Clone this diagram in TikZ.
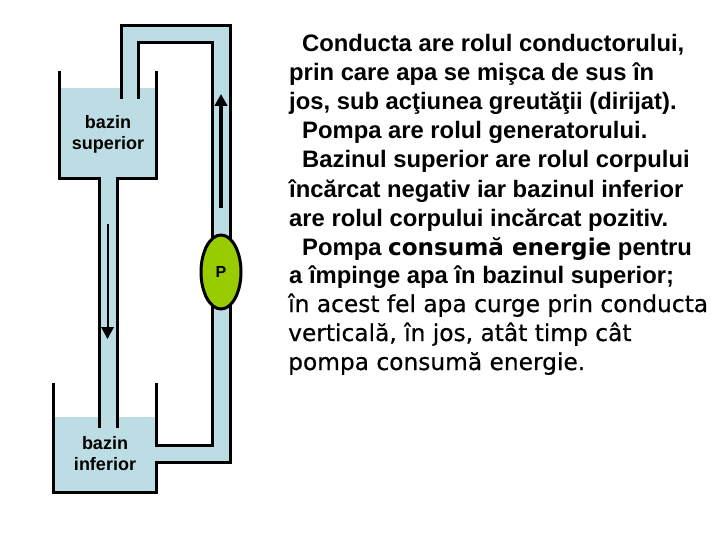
\documentclass[tikz,border=0pt]{standalone}
\usepackage{fontspec}
\setmainfont{Liberation Sans}
\newfontfamily\wideface{DejaVu Sans}
\newfontfamily\comicface[FakeBold=0.5]{DejaVu Sans}
\usetikzlibrary{arrows.meta,shapes.geometric}
\definecolor{BazWater}{RGB}{187,221,227}
\definecolor{BazPump}{RGB}{153,204,0}
\tikzset{
  baz/wall/.style={draw=black, line width=3pt, line cap=butt, line join=miter},
  baz/water/.style={fill=BazWater, draw=none},
  baz/pump/.style={ellipse, draw=black, line width=3pt, fill=BazPump, minimum width=40pt, minimum height=74pt, inner sep=0pt, font=\fontsize{16}{16}\selectfont\bfseries},
  baz/label/.style={align=center, font=\fontsize{18}{21}\selectfont\bfseries},
  baz/upflow/.style={-{Triangle[length=12pt,width=12.5pt]}, line width=3.6pt},
  baz/downflow/.style={-{Triangle[length=12pt,width=12.5pt]}, line width=2pt},
  baz/line/.style={anchor=base west, inner sep=0pt, font=\fontsize{23.8}{23.8}\selectfont\bfseries},
  baz/comic/.style={anchor=base west, inner sep=0pt, font=\fontsize{23.3}{23.3}\selectfont\comicface}
}
\begin{document}
\begin{tikzpicture}[x=1pt,y=-1pt]
  \useasboundingbox (0,0) rectangle (720,540);
  % water
  \fill[baz/water] (59,88) rectangle (156,179);
  \fill[baz/water] (99,179) rectangle (117,417);
  \fill[baz/water] (53,417) rectangle (156,492);
  \fill[baz/water] (121,26) rectangle (230,43);
  \fill[baz/water] (121,26) rectangle (138,99);
  \fill[baz/water] (212,26) rectangle (230,462);
  \fill[baz/water] (156,445) rectangle (230,462);
  % upper tank
  \draw[baz/wall] (59,71) -- (59,179) -- (99,179) -- (99,270);
  \draw[baz/wall] (156,71) -- (156,179) -- (117,179) -- (117,270);
  % lower tank
  \draw[baz/wall] (53,383) -- (53,492) -- (156,492) -- (156,462) -- (230,462) -- (230,300);
  \draw[baz/wall] (156,383) -- (156,445) -- (212,445) -- (212,300);
  % vertical pipe
  \draw[baz/wall] (99,270) -- (99,428);
  \draw[baz/wall] (117,270) -- (117,428);
  % upper pipe
  \draw[baz/wall] (121,99) -- (121,26) -- (230,26) -- (230,240);
  \draw[baz/wall] (138,99) -- (138,43) -- (212,43) -- (212,240);
  % pump
  \node[baz/pump] (pump) at (221,272) {P};
  % arrows
  \coordinate (upstart) at (221,208);
  \coordinate (upend) at (221,94);
  \coordinate (downstart) at (107.5,224);
  \coordinate (downend) at (107.5,339);
  \draw[baz/upflow] (upstart) -- (upend);
  \draw[baz/downflow] (downstart) -- (downend);
  % labels
  \node[baz/label] (sup) at (108,134) {bazin\\superior};
  \node[baz/label] (inf) at (105,454) {bazin\\inferior};
  % text
  \node[baz/line] (l1) at (302,52) {Conducta are rolul conductorului,};
  \node[baz/line] (l2) at (289,81) {prin care apa se mişca de sus în};
  \node[baz/line] (l3) at (289,110) {jos, sub acţiunea greutăţii (dirijat).};
  \node[baz/line] (l4) at (302,139) {Pompa are rolul generatorului.};
  \node[baz/line] (l5) at (302,168) {Bazinul superior are rolul corpului};
  \node[baz/line] (l6) at (289,197) {încărcat negativ iar bazinul inferior};
  \node[baz/line] (l7) at (289,226) {are rolul corpului incărcat pozitiv.};
  \node[baz/line] (l8) at (302,255) {Pompa {\fontsize{23.1}{23.1}\selectfont\wideface\bfseries consumă energie} pentru};
  \node[baz/line] (l9) at (289,283) {a împinge apa în bazinul superior;};
  \node[baz/comic] (l10) at (288,312) {în acest fel apa curge prin conducta};
  \node[baz/comic] (l11) at (288,341) {verticală, în jos, atât timp cât};
  \node[baz/comic] (l12) at (288,370) {pompa consumă energie.};
\end{tikzpicture}
\end{document}
